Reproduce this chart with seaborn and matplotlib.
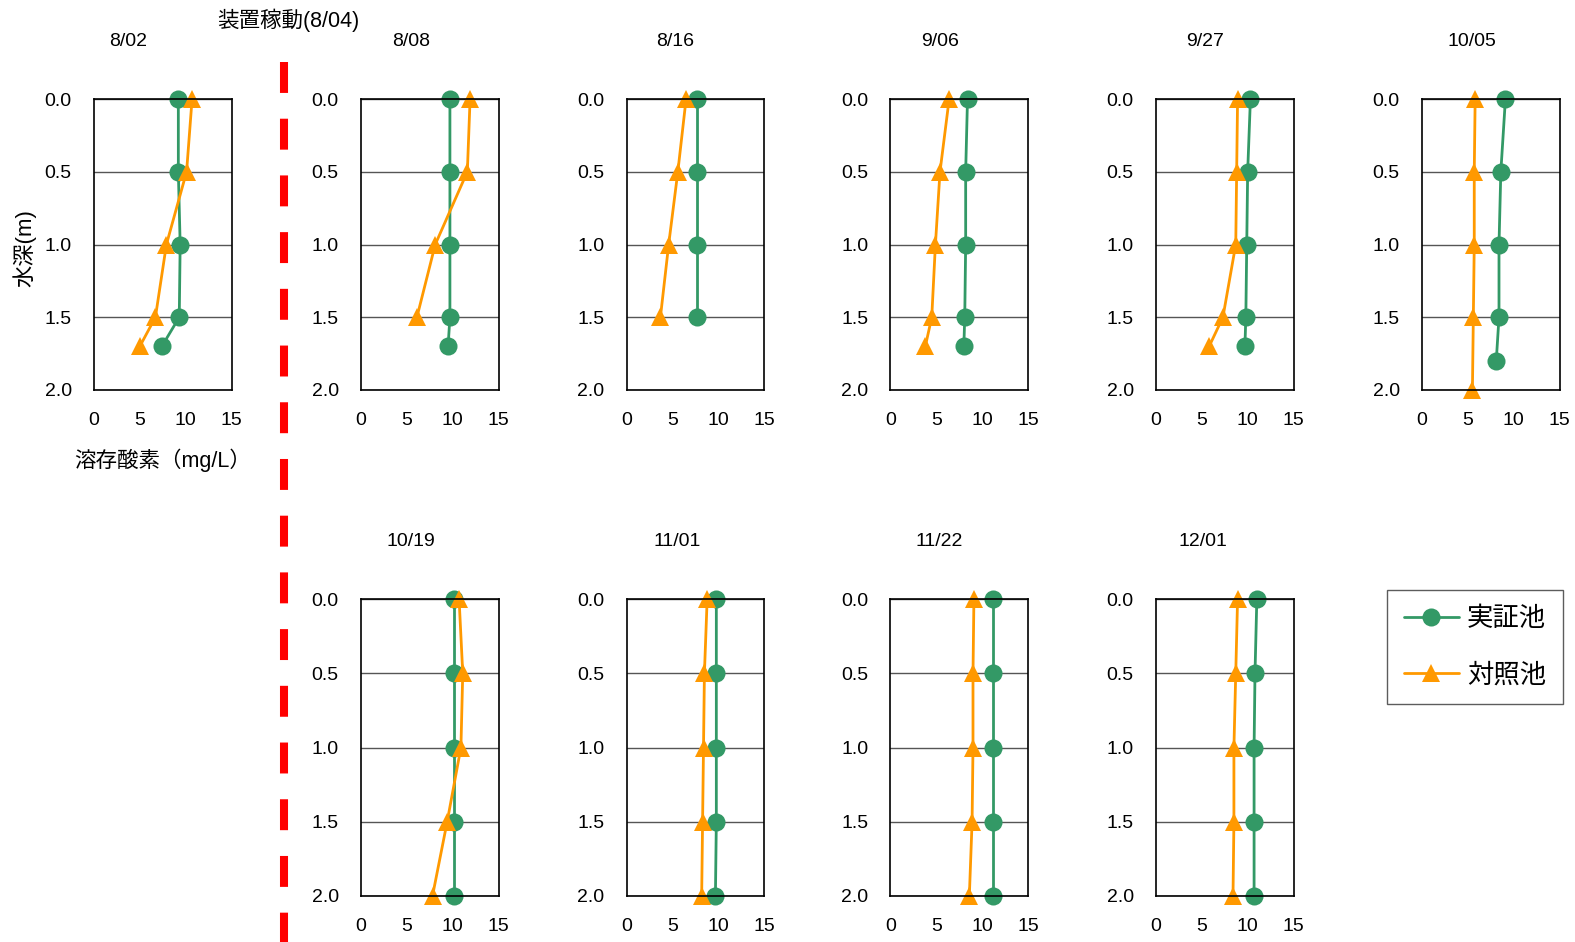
import pandas as pd
import matplotlib.pyplot as plt
import seaborn as sns
from matplotlib.lines import Line2D
from matplotlib.ticker import FormatStrFormatter

# survey dates
dates = ['8/02', '8/08', '8/16', '9/06', '9/27', '10/05', '10/19', '11/01', '11/22', '12/01']

# 実証池 (green) depth [m] and dissolved oxygen [mg/L]
jissho_depth = [
    [0.0, 0.5, 1.0, 1.5, 1.7],
    [0.0, 0.5, 1.0, 1.5, 1.7],
    [0.0, 0.5, 1.0, 1.5],
    [0.0, 0.5, 1.0, 1.5, 1.7],
    [0.0, 0.5, 1.0, 1.5, 1.7],
    [0.0, 0.5, 1.0, 1.5, 1.8],
    [0.0, 0.5, 1.0, 1.5, 2.0],
    [0.0, 0.5, 1.0, 1.5, 2.0],
    [0.0, 0.5, 1.0, 1.5, 2.0],
    [0.0, 0.5, 1.0, 1.5, 2.0],
]
jissho_do = [
    [9.2, 9.2, 9.4, 9.3, 7.4],
    [9.7, 9.7, 9.7, 9.7, 9.5],
    [7.7, 7.7, 7.7, 7.7],
    [8.4, 8.2, 8.2, 8.1, 8.0],
    [10.3, 10.0, 9.9, 9.8, 9.7],
    [9.1, 8.6, 8.4, 8.4, 8.1],
    [10.1, 10.1, 10.1, 10.1, 10.1],
    [9.8, 9.8, 9.8, 9.8, 9.7],
    [11.2, 11.2, 11.2, 11.2, 11.2],
    [11.0, 10.8, 10.7, 10.7, 10.7],
]

# 対照池 (orange)
taisho_depth = [
    [0.0, 0.5, 1.0, 1.5, 1.7],
    [0.0, 0.5, 1.0, 1.5],
    [0.0, 0.5, 1.0, 1.5],
    [0.0, 0.5, 1.0, 1.5, 1.7],
    [0.0, 0.5, 1.0, 1.5, 1.7],
    [0.0, 0.5, 1.0, 1.5, 2.0],
    [0.0, 0.5, 1.0, 1.5, 2.0],
    [0.0, 0.5, 1.0, 1.5, 2.0],
    [0.0, 0.5, 1.0, 1.5, 2.0],
    [0.0, 0.5, 1.0, 1.5, 2.0],
]
taisho_do = [
    [10.7, 10.1, 7.9, 6.7, 5.0],
    [11.9, 11.6, 8.1, 6.1],
    [6.5, 5.6, 4.6, 3.7],
    [6.4, 5.4, 4.9, 4.5, 3.8],
    [8.9, 8.8, 8.7, 7.3, 5.8],
    [5.8, 5.7, 5.7, 5.6, 5.5],
    [10.7, 11.1, 10.9, 9.4, 7.8],
    [8.8, 8.5, 8.4, 8.3, 8.2],
    [9.1, 9.0, 9.0, 8.9, 8.6],
    [8.9, 8.7, 8.5, 8.5, 8.4],
]

x_ticks = [0, 5, 10, 15]
y_ticks = [0.0, 0.5, 1.0, 1.5, 2.0]
ponds = ['実証池', '対照池']

rows = []
for i, d in enumerate(dates):
    for dep, v in zip(jissho_depth[i], jissho_do[i]):
        rows.append((d, ponds[0], dep, v))
    for dep, v in zip(taisho_depth[i], taisho_do[i]):
        rows.append((d, ponds[1], dep, v))
df = pd.DataFrame(rows, columns=['date', 'pond', 'depth', 'do'])

sns.set_style('white')
plt.rcParams['font.family'] = ['Liberation Sans', 'Noto Sans CJK JP', 'DejaVu Sans']
plt.rcParams['text.color'] = 'black'
plt.rcParams['xtick.color'] = 'black'
plt.rcParams['ytick.color'] = 'black'

W, H = 1575, 942
fig = plt.figure(figsize=(W / 100, H / 100), dpi=100)

palette = {'実証池': '#339966', '対照池': '#FF9900'}
markers = {'実証池': 'o', '対照池': '^'}

# panel layout in pixels (left, top, bottom) and title x centres
col_left = [94, 361, 626.5, 890.5, 1156, 1422]
pan_w = 137.5
top_row = (99, 390)
bot_row = (599, 896)
panel_pos = [(0, top_row), (1, top_row), (2, top_row), (3, top_row), (4, top_row), (5, top_row),
             (1, bot_row), (2, bot_row), (3, bot_row), (4, bot_row)]
title_x = [128, 411, 675, 940, 1205, 1472, 411, 677, 939, 1203]

for i, d in enumerate(dates):
    c, (t, b) = panel_pos[i]
    ax = fig.add_axes([col_left[c] / W, 1 - b / H, pan_w / W, (b - t) / H])
    sns.lineplot(data=df[df['date'] == d], x='do', y='depth', hue='pond', style='pond',
                 hue_order=ponds, style_order=ponds, palette=palette, markers=markers,
                 dashes=False, sort=False, estimator=None, legend=False, ax=ax,
                 markersize=13, linewidth=2, markeredgewidth=0, clip_on=False)
    ax.set_xlim(0, 15)
    ax.set_ylim(2.0, 0.0)
    ax.set_xticks(x_ticks)
    ax.set_yticks(y_ticks)
    ax.yaxis.set_major_formatter(FormatStrFormatter('%.1f'))
    ax.set_xlabel('')
    ax.set_ylabel('')
    ax.grid(axis='y', color='#555555', lw=1)
    ax.set_axisbelow(True)
    for s in ax.spines.values():
        s.set_color('black')
        s.set_linewidth(1.2)
    ax.tick_params(axis='x', direction='in', length=5, width=1, pad=16, labelsize=14)
    ax.tick_params(axis='y', direction='out', length=3, width=1, pad=13, labelsize=14)
    ty = 41 if t < 300 else 541
    fig.text(title_x[i] / W, 1 - ty / H, d, ha='center', va='center', fontsize=14)

fig.text(25 / W, 1 - 248 / H, '水深(m)', rotation=90, ha='center', va='center', fontsize=16)
fig.text(163 / W, 1 - 460 / H, '溶存酸素（mg/L）', ha='center', va='center', fontsize=15.5)
fig.text(288 / W, 1 - 20 / H, '装置稼動(8/04)', ha='center', va='center', fontsize=15.5)

# start-up marker line
fig.add_artist(Line2D([283.5 / W, 283.5 / W], [1 - 62 / H, 0], color='#FF0000', lw=5.8,
                      linestyle=(0, (3.84, 3.2)), transform=fig.transFigure))

handles = [Line2D([], [], color=palette[p], marker=markers[p], markersize=13, lw=2,
                  markeredgewidth=0) for p in ponds]
leg = fig.legend(handles, ponds, loc='upper left', bbox_to_anchor=(1387 / W, 1 - 590 / H),
                 fontsize=19, frameon=True, fancybox=False, borderpad=0.63, labelspacing=1.2,
                 handlelength=2.1, handletextpad=0.3, borderaxespad=0)
leg.get_frame().set_edgecolor('#333333')
leg.get_frame().set_linewidth(1)

fig.savefig('out.png', dpi=100)
